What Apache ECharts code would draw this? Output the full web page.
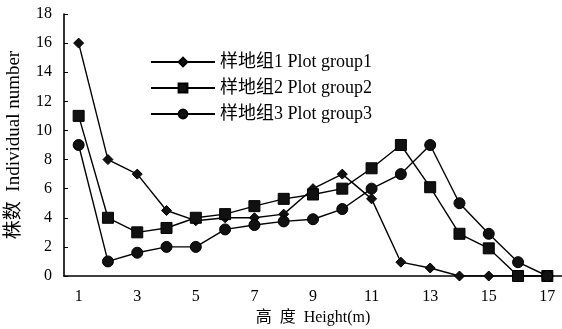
<!DOCTYPE html>
<html>
<head>
<meta charset="utf-8">
<script src="https://cdn.jsdelivr.net/npm/echarts@6/dist/echarts.min.js"></script>
<style>
html,body{margin:0;padding:0;background:#fff;}
#chart{width:562px;height:329px;}
</style>
</head>
<body>
<div id="chart"></div>
<script>
// heights 1..17 (m)
var heights = ['1','2','3','4','5','6','7','8','9','10','11','12','13','14','15','16','17'];
var group1 = [16, 8, 7, 4.5, 3.8, 4, 4, 4.25, 6, 7, 5.3, 0.95, 0.55, 0, 0, 0, 0];
var group2 = [11, 4, 3, 3.3, 4, 4.25, 4.8, 5.3, 5.6, 6, 7.4, 9, 6.1, 2.9, 1.9, 0, 0];
var group3 = [9, 1, 1.6, 2, 2, 3.2, 3.5, 3.75, 3.9, 4.6, 6, 7, 9, 5, 2.9, 0.95, 0];
var names = ['样地组1 Plot group1', '样地组2 Plot group2', '样地组3 Plot group3'];

var FONT = '"Liberation Serif", "Noto Sans CJK SC", serif';

function mk(name, data, symbol, size) {
    return {
        name: name,
        type: 'line',
        data: data,
        symbol: symbol,
        symbolSize: size,
        lineStyle: { color: '#000', width: 1.4 },
        itemStyle: { color: '#111', borderColor: '#000', borderWidth: 1 },
        emphasis: { disabled: true },
        animation: false
    };
}

var option = {
    backgroundColor: '#fff',
    textStyle: { fontFamily: FONT, color: '#000' },
    grid: { left: 64, right: 0, top: 14, bottom: 53, containLabel: false, outerBoundsMode: 'none' },
    legend: {
        orient: 'vertical',
        left: 145,
        top: 48,
        itemWidth: 64,
        itemHeight: 11,
        itemGap: 8,
        textStyle: { fontFamily: FONT, fontSize: 18, color: '#000' },
        data: names
    },
    xAxis: {
        type: 'category',
        data: heights,
        name: '高  度  Height(m)',
        nameLocation: 'middle',
        nameGap: 33,
        nameTextStyle: { fontFamily: FONT, fontSize: 16, color: '#000' },
        axisLine: { lineStyle: { color: '#000', width: 1.6 } },
        axisTick: { inside: true, length: 4, lineStyle: { color: '#000' } },
        axisLabel: { interval: 1, fontSize: 16, color: '#000', margin: 13, fontFamily: FONT },
        splitLine: { show: false }
    },
    yAxis: {
        type: 'value',
        min: 0,
        max: 18,
        interval: 2,
        name: '株数  Individual number',
        nameLocation: 'middle',
        nameGap: 40,
        nameTextStyle: { fontFamily: FONT, fontSize: 19, color: '#000' },
        axisLine: { show: true, lineStyle: { color: '#000', width: 1.6 } },
        axisTick: { show: true, inside: true, length: 4, lineStyle: { color: '#000' } },
        axisLabel: { fontSize: 16, color: '#000', margin: 12, fontFamily: FONT },
        splitLine: { show: false }
    },
    series: [
        mk(names[0], group1, 'diamond', 10),
        mk(names[1], group2, 'rect', 11),
        mk(names[2], group3, 'circle', 11)
    ]
};

var chart = echarts.init(document.getElementById('chart'));
chart.setOption(option);
</script>
</body>
</html>
